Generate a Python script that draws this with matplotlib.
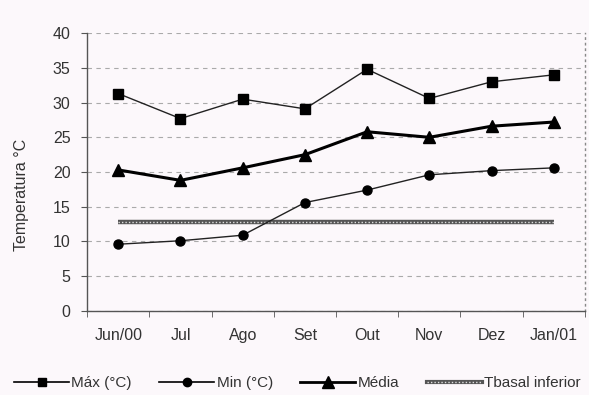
import matplotlib
matplotlib.use("Agg")
import matplotlib.pyplot as plt
from matplotlib.lines import Line2D

months = ["Jun/00", "Jul", "Ago", "Set", "Out", "Nov", "Dez", "Jan/01"]
t_max = [31.3, 27.7, 30.5, 29.1, 34.8, 30.6, 33.0, 34.0]
t_min = [9.6, 10.1, 10.9, 15.6, 17.4, 19.6, 20.2, 20.6]
t_med = [20.3, 18.8, 20.6, 22.5, 25.8, 25.0, 26.6, 27.2]
t_base = [12.8] * len(months)
yticks = [0, 5, 10, 15, 20, 25, 30, 35, 40]

plt.rcParams['font.family'] = ['Liberation Sans', 'DejaVu Sans']
bg = '#fcf8fb'
fs = 11.5
tc = '#333333'

fig = plt.figure(figsize=(5.89, 3.95), dpi=100, facecolor=bg)
ax = fig.add_axes([0.148, 0.213, 0.845, 0.703], facecolor=bg)

x = list(range(len(months)))
ax.plot(x, t_max, color='#222222', lw=1.0, marker='s', ms=6.5, mfc='black', mec='black', zorder=4)
ax.plot(x, t_min, color='#222222', lw=1.0, marker='o', ms=6.5, mfc='black', mec='black', zorder=4)
ax.plot(x, t_med, color='black', lw=2.2, marker='^', ms=9, mfc='black', mec='black', zorder=4)
ax.plot(x, t_base, color='#555555', lw=3.2, solid_capstyle='butt', zorder=3)
ax.plot(x, t_base, color='#dddddd', lw=1.0, ls=(0, (1, 1.5)), zorder=3)

ax.set_xlim(-0.5, len(months) - 0.5)
ax.set_ylim(0, 40)
ax.set_yticks(yticks)
ax.set_yticklabels([str(v) for v in yticks], fontsize=fs, color=tc)
ax.set_xticks(x)
ax.set_xticklabels(months, fontsize=fs, color=tc)
ax.tick_params(axis='x', length=0, pad=12)
ax.set_xticks([i - 0.5 for i in range(len(months) + 1)], minor=True)
ax.tick_params(axis='x', which='minor', length=4, direction='out', color='#555555')
ax.tick_params(axis='y', length=4, direction='out', color='#555555', pad=8)

ax.grid(axis='y', color='#aaaaaa', ls=(0, (4, 4)), lw=0.8)
for s in ['left', 'bottom']:
    ax.spines[s].set_color('#555555')
    ax.spines[s].set_linewidth(1.0)
ax.spines['top'].set_visible(False)
ax.spines['right'].set_color('#888888')
ax.spines['right'].set_linestyle((0, (1, 3)))
ax.spines['right'].set_linewidth(1.0)

fig.text(0.037, 1 - 195 / 395, "Temperatura °C", rotation=90, ha='center', va='center',
         fontsize=fs, color=tc)

h_max = Line2D([], [], color='black', lw=1.2, marker='s', ms=6)
h_min = Line2D([], [], color='black', lw=1.2, marker='o', ms=6)
h_med = Line2D([], [], color='black', lw=2.0, marker='^', ms=8)
h_b1 = Line2D([], [], color='#555555', lw=3.0)
h_b2 = Line2D([], [], color='#dddddd', lw=1.0, ls=(0, (1, 1.5)))
fig.legend([h_max, h_min, h_med, (h_b1, h_b2)],
           ["Máx (°C)", "Min (°C)", "Média", "Tbasal inferior"],
           loc='center', bbox_to_anchor=(0.505, 1 - 383 / 395), ncol=4, frameon=False,
           fontsize=11, handlelength=3.6, handletextpad=0.15,
           columnspacing=1.8, labelcolor=tc)

fig.savefig("out.png", dpi=100, facecolor=bg)
